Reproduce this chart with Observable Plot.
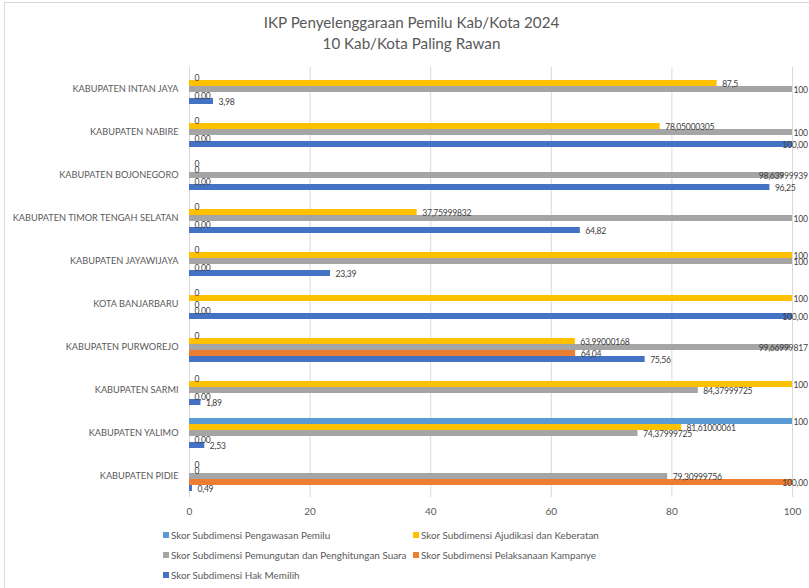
<!DOCTYPE html>
<html>
<head>
<meta charset="utf-8">
<script src="https://cdn.jsdelivr.net/npm/d3@7"></script>
<script src="https://cdn.jsdelivr.net/npm/@observablehq/plot@0.6"></script>
<style>
  body { margin: 0; background: #fff; font-family: Lato, "Open Sans", sans-serif; }
  #wrap { position: relative; width: 809px; height: 588px; overflow: hidden; }
  #frame { position: absolute; left: 4px; top: 2px; width: 900px; height: 700px; border-left: 1px solid #d9d9d9; border-top: 1px solid #d9d9d9; }
  #title { position: absolute; left: 7px; top: 12px; width: 809px; text-align: center; font-size: 15.2px; line-height: 21px; color: #595959; }
  #plot { position: absolute; left: 0; top: 0; }
  #legend { position: absolute; left: 163px; top: 525px; font-size: 9.9px; color: #595959; display: grid; grid-template-columns: 250px 250px; row-gap: 0; }
  .item { height: 20px; display: flex; align-items: center; white-space: nowrap; }
  .sw { width: 6px; height: 6px; margin-right: 2px; flex: none; }
</style>
</head>
<body>
<div id="wrap">
  <div id="frame"></div>
  <div id="plot"></div>
  <div id="title">IKP Penyelenggaraan Pemilu Kab/Kota 2024<br>10 Kab/Kota Paling Rawan</div>
  <div id="legend"></div>
</div>
<script>
const categories = [
  "KABUPATEN INTAN JAYA",
  "KABUPATEN NABIRE",
  "KABUPATEN BOJONEGORO",
  "KABUPATEN TIMOR TENGAH SELATAN",
  "KABUPATEN JAYAWIJAYA",
  "KOTA BANJARBARU",
  "KABUPATEN PURWOREJO",
  "KABUPATEN SARMI",
  "KABUPATEN YALIMO",
  "KABUPATEN PIDIE"
];
const seriesNames = [
  "Skor Subdimensi Pengawasan Pemilu",
  "Skor Subdimensi Ajudikasi dan Keberatan",
  "Skor Subdimensi Pemungutan dan Penghitungan Suara",
  "Skor Subdimensi Pelaksanaan Kampanye",
  "Skor Subdimensi Hak Memilih"
];
const pengawasan = [0, 0, 0, 0, 0, 0, 0, 0, 100, 0];
const ajudikasi = [87.5, 78.05000305, 0, 37.75999832, 100, 100, 63.99000168, 100, 81.61000061, 0];
const pemungutan = [100, 100, 98.63999939, 100, 100, 0, 99.66999817, 84.37999725, 74.37999725, 79.30999756];
const kampanye = [0, 0, 0, 0, 0, 0, 64.04, 0, 0, 100];
const hakMemilih = [3.98, 100, 96.25, 64.82, 23.39, 100, 75.56, 1.89, 2.53, 0.49];
const xTicks = [0, 20, 40, 60, 80, 100];
const colors = ["#5B9BD5", "#FFC000", "#A5A5A5", "#ED7D31", "#4472C4"];

const seriesValues = [pengawasan, ajudikasi, pemungutan, kampanye, hakMemilih];
const general = v => String(v).replace(".", ",");
const fixed2 = v => v.toFixed(2).replace(".", ",");
const formats = [general, general, general, fixed2, fixed2];

const data = categories.flatMap((c, i) => seriesNames.map((s, j) => ({
  cat: c, series: s, value: seriesValues[j][i], label: formats[j](seriesValues[j][i])
})));

const chart = Plot.plot({
  width: 809,
  height: 522,
  marginTop: 67,
  marginBottom: 25,
  marginLeft: 189,
  marginRight: 17,
  style: { fontFamily: "Lato, 'Open Sans', sans-serif", color: "#595959", background: "transparent" },
  fy: { domain: categories, padding: 0, label: null, tickSize: 0, tickPadding: 11, axis: "left" },
  y: { domain: seriesNames, axis: null, paddingInner: 0, paddingOuter: 0.9 },
  x: { domain: [0, 100], ticks: xTicks, tickSize: 0, tickPadding: 10, label: null, axis: "bottom" },
  color: { domain: seriesNames, range: colors },
  marks: [
    Plot.ruleX(xTicks, { stroke: "#d9d9d9", strokeWidth: 1 }),
    Plot.barX(data, { fy: "cat", y: "series", x: "value", fill: "series" }),
    Plot.text(data, { fy: "cat", y: "series", x: "value", text: "label", textAnchor: "start", dx: 5, dy: 1, fill: "#404040", fontSize: 8.6, className: "dlabel" })
  ]
});
document.getElementById("plot").appendChild(chart);

chart.querySelectorAll("g[aria-label='fy-axis tick label'] text, g[aria-label='fy-axis'] text").forEach(t => t.setAttribute("font-size", "9.2"));
chart.querySelectorAll("g[aria-label='x-axis tick label'] text, g[aria-label='x-axis'] text").forEach(t => t.setAttribute("font-size", "10"));
chart.querySelectorAll("g.dlabel text").forEach(t => t.setAttribute("letter-spacing", "-0.25"));

// keep data labels inside the chart area, as the spreadsheet does
const limit = 808;
const host = chart.getBoundingClientRect();
chart.querySelectorAll("g.dlabel text").forEach(t => {
  const b = t.getBoundingClientRect();
  const right = b.right - host.left;
  if (right > limit) {
    const shift = right - limit;
    if (t.hasAttribute("x")) t.setAttribute("x", parseFloat(t.getAttribute("x")) - shift);
    else t.setAttribute("transform", (t.getAttribute("transform") || "") + ` translate(${-shift},0)`);
  }
});

const legend = document.getElementById("legend");
seriesNames.forEach((s, j) => {
  const d = document.createElement("div");
  d.className = "item";
  d.innerHTML = `<span class="sw" style="background:${colors[j]}"></span><span>${s}</span>`;
  legend.appendChild(d);
});
</script>
</body>
</html>
